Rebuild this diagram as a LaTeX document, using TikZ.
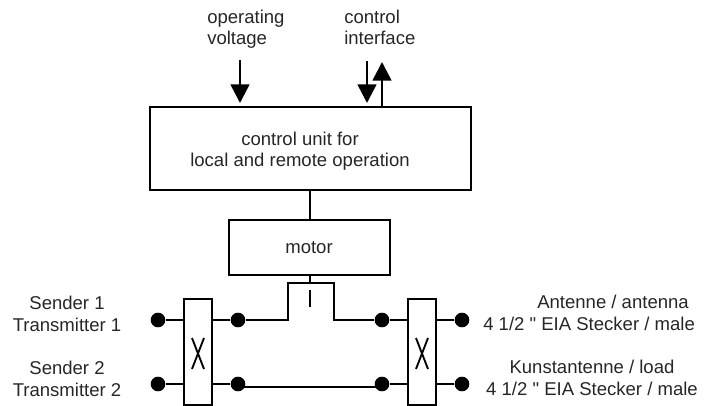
\documentclass[tikz,border=0pt]{standalone}
\usepackage{fontspec}
\newfontfamily\labfont{Liberation Sans}
\usetikzlibrary{arrows.meta}
\tikzset{
  px/.style={x=0.75pt,y=-0.75pt},
  wire/.style={draw=black,line width=1.9pt},
  thin wire/.style={draw=black,line width=1.4pt},
  term/.style={circle,fill=black,minimum size=11pt,inner sep=0pt},
  lab/.style={text=black!85,font=\labfont\fontsize{13.9pt}{16pt}\selectfont,align=center,inner sep=0pt,anchor=base},
  arr/.style={draw=black,line width=1.9pt,-{Triangle[length=14pt,width=14pt]}}
}
\begin{document}
\begin{tikzpicture}[px]
\useasboundingbox (0,0) rectangle (714,406);
% text
\node[lab,align=left,anchor=base west] (tOp) at (207,45) {operating\\voltage};
\node[lab,align=left,anchor=base west] (tCt) at (344,45) {control\\interface};
\node[lab] (tCu) at (300,167) {control unit for\\local and remote operation};
\node[lab] (tS1) at (67,331) {Sender 1\\Transmitter 1};
\node[lab] (tS2) at (67,396) {Sender 2\\Transmitter 2};
\node[lab,align=left,anchor=base west] (tA) at (483,330) {\hspace*{40.5pt}Antenne / antenna\\4 1/2 " EIA Stecker / male};
\node[lab] (tK) at (592,395) {Kunstantenne / load\\4 1/2 " EIA Stecker / male};
% boxes
\draw[wire] (150,107) rectangle (471,190);
\coordinate (cuT1) at (240,107);
\coordinate (cuT2) at (367,107);
\coordinate (cuT3) at (382,107);
\coordinate (cuB) at (310,190);
\draw[wire] (229,220) rectangle (390,275);
\node[lab] (tM) at (309,253) {motor};
\coordinate (mT) at (310,220);
\coordinate (mB) at (310,275);
\draw[wire] (cuB) -- (mT);
% arrows
\coordinate (a1) at (240,60);
\coordinate (a2) at (367,61);
\coordinate (a3) at (382,62);
\draw[arr,shorten >=3pt] (a1) -- (cuT1);
\draw[arr,shorten >=3pt] (a2) -- (cuT2);
\draw[arr] (cuT3) -- (a3);
% switches
\draw[wire] (184,299) rectangle (212,405);
\draw[wire] (408,299) rectangle (436,405);
\draw[thin wire] (192,338) -- (204,369) (204,338) -- (192,369);
\draw[thin wire] (416,338) -- (428,369) (428,338) -- (416,369);
% terminals
\node[term] (l1) at (158,320) {};
\node[term] (l2) at (158,384) {};
\node[term] (m1) at (238,320) {};
\node[term] (m2) at (238,384) {};
\node[term] (n1) at (382,320) {};
\node[term] (n2) at (382,384) {};
\node[term] (r1) at (462,320) {};
\node[term] (r2) at (462,384) {};
\coordinate (sl1) at (184,320); \coordinate (sl2) at (184,384);
\coordinate (sm1) at (212,320); \coordinate (sm2) at (212,384);
\coordinate (sn1) at (408,320); \coordinate (sn2) at (408,384);
\coordinate (sr1) at (436,320); \coordinate (sr2) at (436,384);
\draw[wire] (l1) -- (sl1) (l2) -- (sl2) (m1) -- (sm1) (m2) -- (sm2);
\draw[wire] (n1) -- (sn1) (n2) -- (sn2) (r1) -- (sr1) (r2) -- (sr2);
% relay loop
\draw[wire] (m1) -- (288,320) -- (288,283) -- (334,283) -- (334,320) -- (n1);
\draw[wire] (238,387) -- (382,387);
\draw[thin wire] (mB) -- (310,283);
\draw[wire] (310,290) -- (310,307);
\end{tikzpicture}
\end{document}
